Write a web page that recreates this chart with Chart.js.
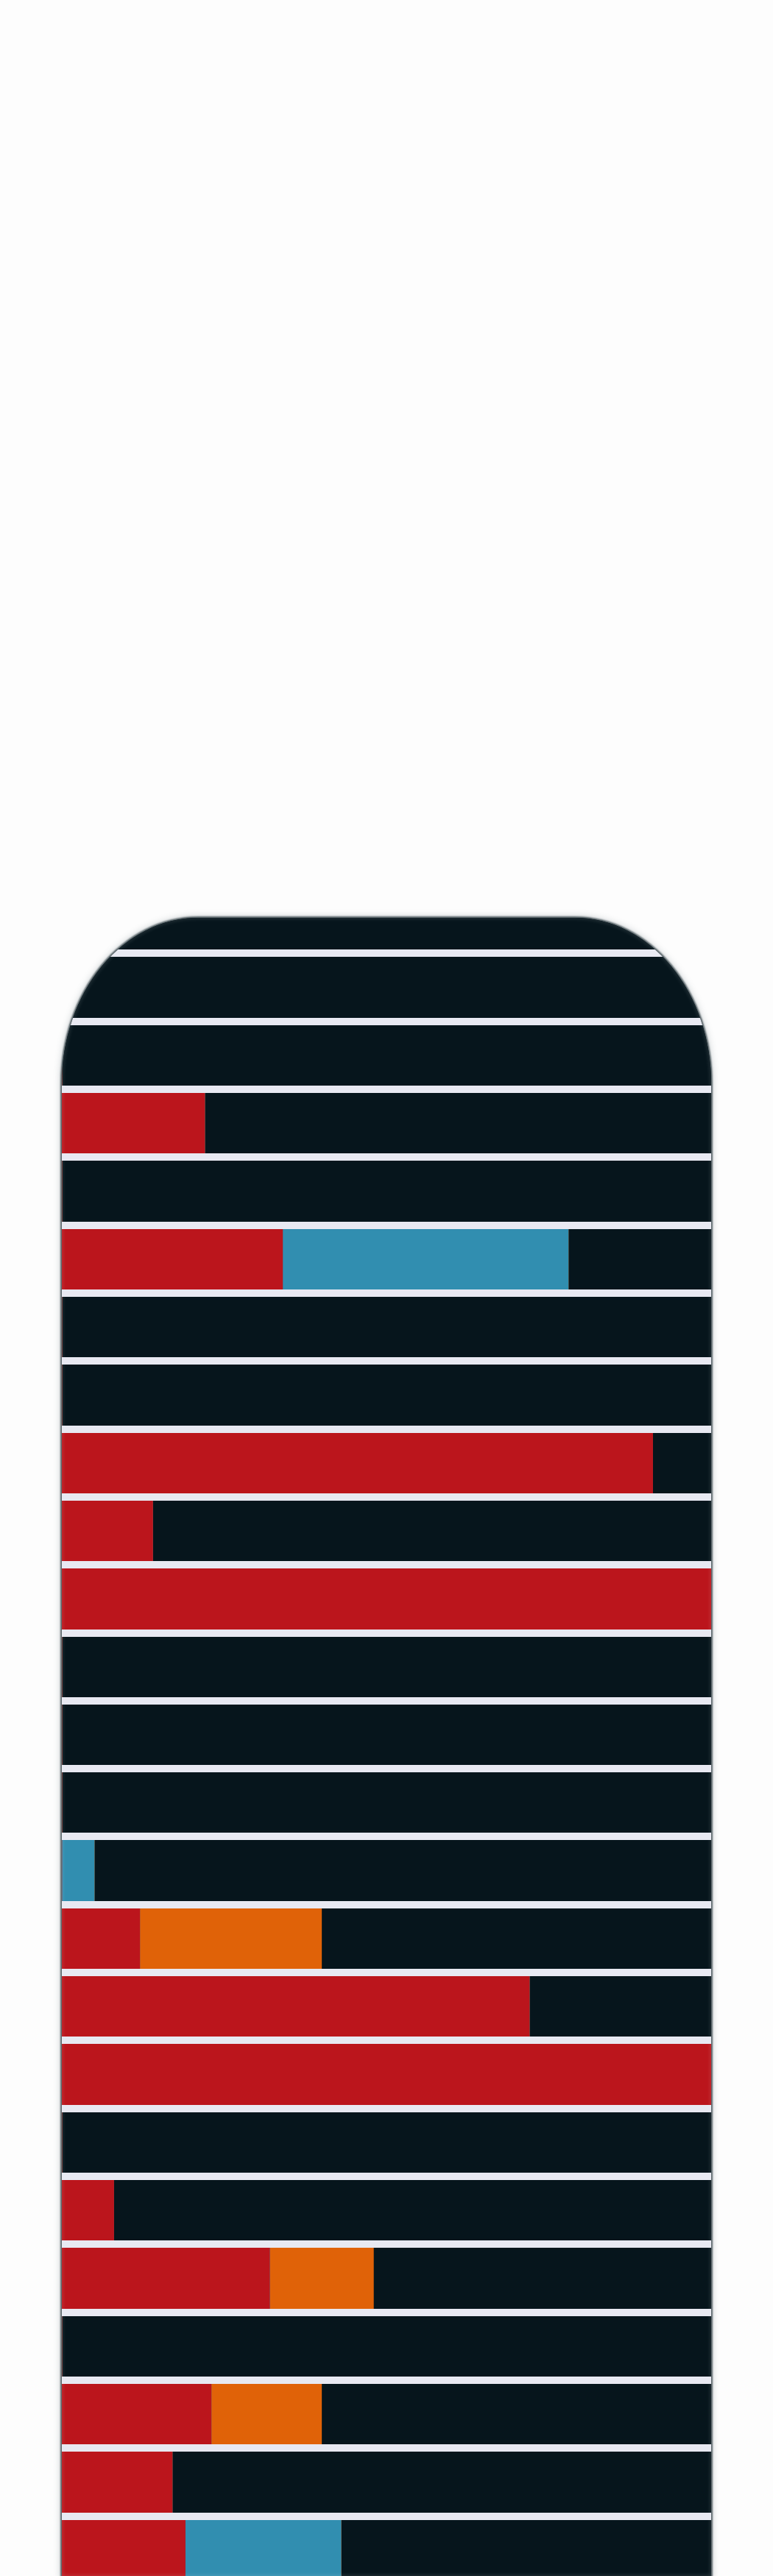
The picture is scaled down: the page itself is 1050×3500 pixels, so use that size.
<!DOCTYPE html>
<html>
<head>
<meta charset="utf-8">
<script src="https://cdn.jsdelivr.net/npm/chart.js@4"></script>
<style>
    html, body {
        margin: 0;
        padding: 0;
        width: 1050px;
        height: 3500px;
        overflow: hidden;
        background: #fdfdfd;
    }
    #capsule {
        position: absolute;
        left: 84px;
        top: 1247px;
        width: 882px;
        height: 2253px;
        overflow: hidden;
        background: #06151c;
        border-radius: 185px 185px 0 0 / 225px 225px 0 0;
        box-shadow: 0 0 2px 2px rgba(45, 60, 66, 0.75), 0 0 8px 3px rgba(120, 132, 138, 0.3);
    }
    #capsule::after {
        content: "";
        position: absolute;
        inset: 0;
        border-radius: inherit;
        box-shadow: inset 0 0 6px rgba(255, 255, 255, 0.18);
        pointer-events: none;
    }
    #rows {
        position: absolute;
        left: 0;
        top: -44px;
    }
</style>
</head>
<body>
<div id="capsule">
    <canvas id="rows" width="882" height="2308"></canvas>
</div>
<script>
// one entry per row, top to bottom (values are % of the full row width)
const rows = [
    "1", "2", "3", "4", "5", "6", "7", "8", "9", "10", "11", "12", "13",
    "14", "15", "16", "17", "18", "19", "20", "21", "22", "23", "24", "25",
];
const redValues = [0, 0, 0, 22, 0, 34, 0, 0, 91, 14, 100, 0, 0, 0, 0, 12, 72, 100, 0, 8, 32, 0, 23, 17, 19];
const blueValues = [0, 0, 0, 0, 0, 44, 0, 0, 0, 0, 0, 0, 0, 0, 5, 0, 0, 0, 0, 0, 0, 0, 0, 0, 24];
const orangeValues = [0, 0, 0, 0, 0, 0, 0, 0, 0, 0, 0, 0, 0, 0, 0, 28, 0, 0, 0, 0, 16, 0, 17, 0, 0];
const xTicks = [0, 100];

const DARK = "#06151c";
const SEPARATOR = "#e8e9f2";

// paints the empty part of every row
const darkArea = {
    id: "darkArea",
    beforeDraw(chart) {
        const {ctx, chartArea} = chart;
        ctx.save();
        ctx.fillStyle = DARK;
        ctx.fillRect(chartArea.left, chartArea.top, chartArea.width, chartArea.height);
        ctx.restore();
    },
};

function barSet(label, data, color) {
    return {
        label: label,
        data: data,
        backgroundColor: color,
        borderWidth: 0,
        barPercentage: 1,
        categoryPercentage: 1,
    };
}

new Chart(document.getElementById("rows"), {
    type: "bar",
    data: {
        labels: rows,
        datasets: [
            barSet("Red", redValues, "#bb151c"),
            barSet("Blue", blueValues, "#318eb0"),
            barSet("Orange", orangeValues, "#e06208"),
        ],
    },
    options: {
        indexAxis: "y",
        responsive: false,
        animation: false,
        events: [],
        layout: {padding: 0},
        plugins: {
            legend: {display: false},
            tooltip: {enabled: false},
        },
        scales: {
            x: {
                display: false,
                stacked: true,
                min: xTicks[0],
                max: xTicks[xTicks.length - 1],
            },
            y: {
                stacked: true,
                ticks: {display: false},
                border: {display: false},
                grid: {
                    color: SEPARATOR,
                    lineWidth: 10,
                    drawTicks: false,
                    z: 1,
                },
            },
        },
    },
    plugins: [darkArea],
});
</script>
</body>
</html>
